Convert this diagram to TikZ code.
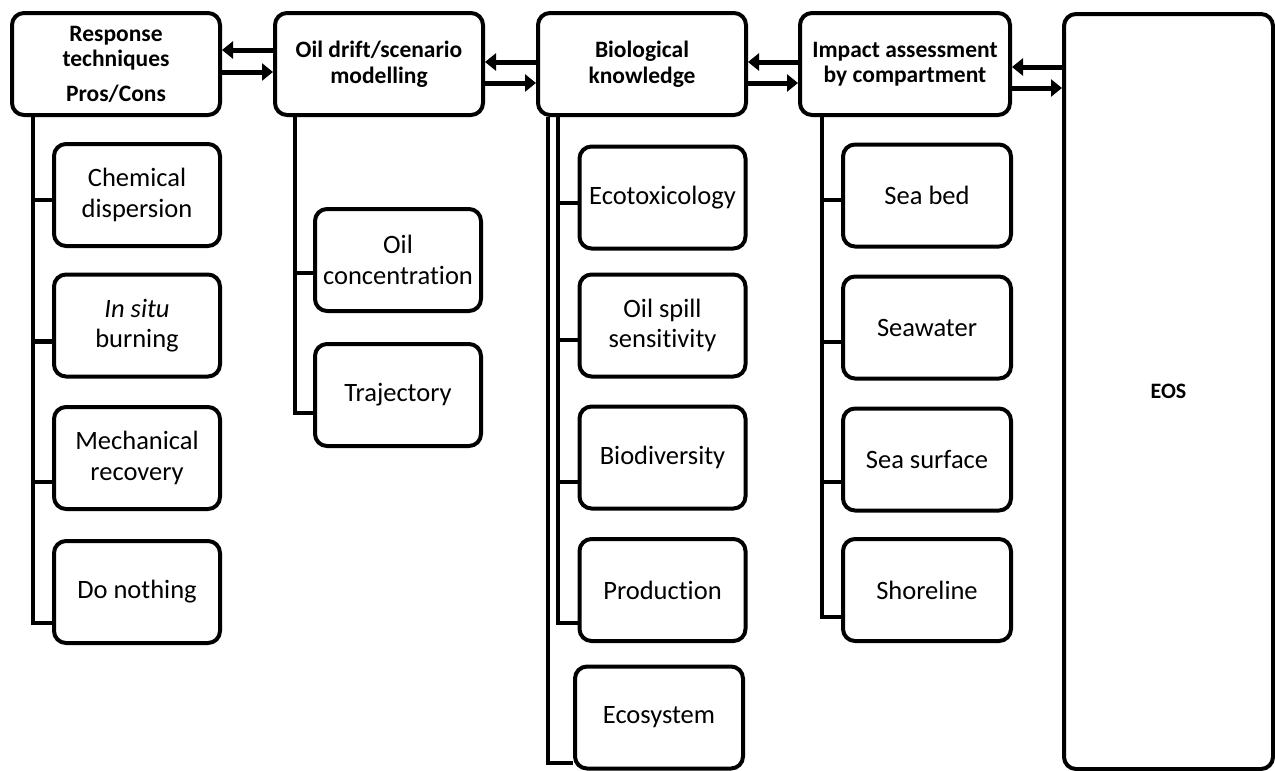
\documentclass[tikz,border=0pt]{standalone}
\usepackage{fontspec}
\setmainfont[Ligatures=NoCommon]{Carlito}
\usetikzlibrary{arrows.meta,positioning,calc}

\begin{document}
\begin{tikzpicture}[x=1pt, y=-1pt,
        header/.style={draw, line width=4pt, rounded corners=12pt, minimum width=208pt, minimum height=102pt, align=center, inner sep=2pt, font=\fontsize{23.5}{25.5}\selectfont\bfseries},
        item/.style={draw, line width=4pt, rounded corners=12pt, minimum width=166pt, minimum height=102pt, align=center, inner sep=2pt, font=\fontsize{26.5}{30.5}\selectfont},
        conn/.style={line width=4.5pt},
        arrow/.style={-{Triangle[length=11pt, width=17pt]}, line width=5pt}
    ]
        \useasboundingbox (0,0) rectangle (1275,771);

        % Header boxes
        \node[header] (resp) at (116,64) {Response\\techniques\\[9pt]Pros/Cons};
        \node[header] (drift) at (379,64) {Oil drift/scenario\\modelling};
        \node[header] (bio) at (642,64) {Biological\\knowledge};
        \node[header, minimum width=210pt] (impact) at (905,64) {Impact assessment\\by compartment};
        \node[header, minimum width=209pt, minimum height=755pt, font=\fontsize{22}{26}\selectfont\bfseries] (eos) at (1168.5,391.5) {EOS};

        % Response techniques
        \node[item] (chem) at (137,195) {Chemical\\dispersion};
        \node[item] (situ) at (137,325.5) {\textit{In situ}\\burning};
        \node[item] (mech) at (137,458) {Mechanical\\recovery};
        \node[item] (nothing) at (137,592) {Do nothing};

        % Oil drift modelling
        \node[item] (conc) at (398,260) {Oil\\concentration};
        \node[item] (traj) at (398,395) {Trajectory};

        % Biological knowledge
        \node[item] (ecotox) at (662.5,197.5) {Ecotoxicology};
        \node[item] (sens) at (662.5,325.5) {Oil spill\\sensitivity};
        \node[item] (biodiv) at (662.5,457.5) {Biodiversity};
        \node[item] (prod) at (662.5,590) {Production};
        \node[item, minimum width=168pt] (ecosys) at (659,717.5) {Ecosystem};

        % Impact assessment
        \node[item, minimum width=168pt] (seabed) at (927,195.5) {Sea bed};
        \node[item, minimum width=168pt] (water) at (927,327.5) {Seawater};
        \node[item, minimum width=168pt] (surface) at (927,459.5) {Sea surface};
        \node[item, minimum width=168pt] (shore) at (927,590) {Shoreline};

        % Tree connectors
        \foreach \c/\s in {chem/-5, situ/-16, mech/-24, nothing/-31}
            \draw[conn] ([xshift=-83pt]resp.south) |- ([yshift=\s pt]\c.west);
        \foreach \c/\s in {conc/-13, traj/-18}
            \draw[conn] ([xshift=-84pt]drift.south) |- ([yshift=\s pt]\c.west);
        \foreach \c/\s in {ecotox/-5.5, sens/-14.5, biodiv/-24.5, prod/-33}
            \draw[conn] ([xshift=-84pt]bio.south) |- ([yshift=\s pt]\c.west);
        \draw[conn] ([xshift=-94pt]bio.south) |- ([yshift=-45.5pt]ecosys.west);
        \foreach \c/\s in {seabed/-4.5, water/-14.5, surface/-22.5, shore/-27}
            \draw[conn] ([xshift=-83pt]impact.south) |- ([yshift=\s pt]\c.west);

        % Arrows between headers
        \draw[arrow] ([yshift=14pt]drift.west) -- ([yshift=14pt]resp.east);
        \draw[arrow] ([yshift=-8pt]resp.east) -- ([yshift=-8pt]drift.west);
        \draw[arrow] ([yshift=2pt]bio.west) -- ([yshift=2pt]drift.east);
        \draw[arrow] ([yshift=-19pt]drift.east) -- ([yshift=-19pt]bio.west);
        \draw[arrow] ([yshift=2pt]impact.west) -- ([yshift=2pt]bio.east);
        \draw[arrow] ([yshift=-19pt]bio.east) -- ([yshift=-19pt]impact.west);
        \draw[arrow] ([yshift=-3pt]impact.east -| eos.west) -- ([yshift=-3pt]impact.east);
        \draw[arrow] ([yshift=-24pt]impact.east) -- ([yshift=-24pt]impact.east -| eos.west);
    \end{tikzpicture}
\end{document}
